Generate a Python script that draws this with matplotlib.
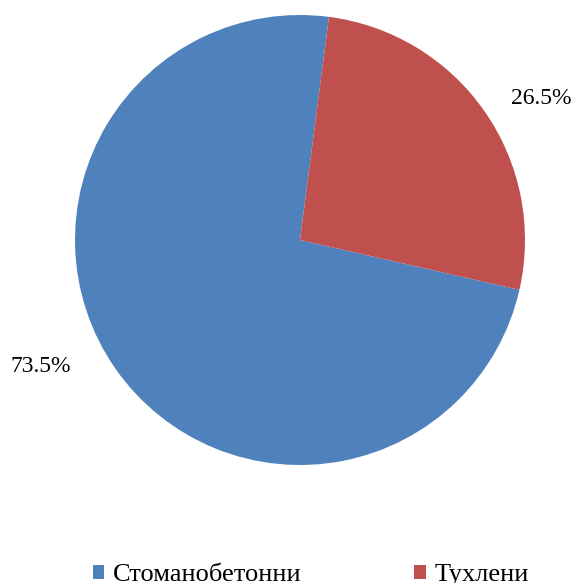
import numpy as np
import matplotlib.pyplot as plt
from matplotlib.patches import Patch

# Data
labels = ["Стоманобетонни", "Тухлени"]
shares = [73.5, 26.5]
colors = ["#4F81BD", "#C0504D"]

plt.rcParams['font.family'] = ['Liberation Serif', 'DejaVu Serif']

fig = plt.figure(figsize=(5.71, 5.83), dpi=100)
ax = fig.add_axes([75/571, (583-465)/583, 450/571, 450/583])

wedges, texts, autotexts = ax.pie(shares, colors=colors, startangle=82.6,
                                  autopct='%.1f%%', pctdistance=1.25,
                                  textprops={'fontsize': 17})
ax.set_xlim(-1, 1)
ax.set_ylim(-1, 1)
ax.set_aspect('equal')

# nudge the percent labels like the original
autotexts[0].set_position((-1.15, -0.56))
autotexts[1].set_position((1.07, 0.63))

handles = [Patch(facecolor=c, edgecolor='none') for c in colors]
fig.legend(handles, labels, loc='center', bbox_to_anchor=(0.544, 0.013),
           ncol=2, frameon=False, fontsize=19, handlelength=0.45, handleheight=0.45,
           handletextpad=0.3, columnspacing=4.3)

fig.savefig("out.png", dpi=100)
